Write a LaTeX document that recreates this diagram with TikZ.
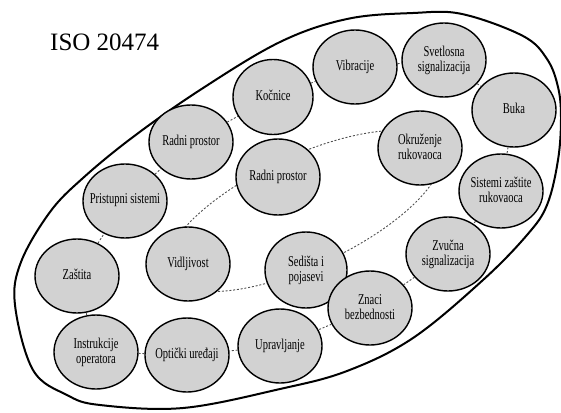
\documentclass[tikz,border=0pt]{standalone}
\usepackage{fontspec}
\setmainfont{Liberation Serif}
\newfontfamily\nodefont[FakeStretch=0.7]{Liberation Serif}
\usetikzlibrary{shapes.geometric}
\definecolor{nodegray}{RGB}{210,210,210}
\definecolor{linkgray}{RGB}{80,80,80}
\newcommand{\onel}[1]{\makebox[0pt]{\raisebox{4pt}{#1}}}
\newcommand{\twol}[2]{\makebox[0pt]{\begin{tabular}{@{}c@{}}#1\\[-3pt]#2\end{tabular}}}
\begin{document}
\begin{tikzpicture}[x=1pt,y=-1pt,
  item/.style={ellipse, draw=black, line width=1.4pt, fill=nodegray,
    minimum width=84pt, minimum height=74pt, inner sep=0pt,
    font=\nodefont\fontsize{15}{18}\selectfont},
  link/.style={draw=linkgray, line width=0.9pt, dash pattern=on 2pt off 1.8pt}]
\useasboundingbox (0,0) rectangle (561,412);
% outer boundary
\draw[line width=2pt] plot[smooth cycle, tension=0.6] coordinates {
  (15,305) (21,262) (50,212) (83,178) (133,137) (200,90) (280,42)
  (347,19) (413,13) (462,14) (523,36) (547,59) (558,87) (561,118)
  (558,160) (547,205) (527,235) (483,280) (413,338) (347,371)
  (280,389) (183,408) (100,405) (67,395) (33,370)};
% inner dashed ellipse
\coordinate (ic) at (304,211);
\draw[link, rotate around={25:(ic)}] (ic) ellipse [x radius=150pt, y radius=55pt];
% title
\node[anchor=base west, inner sep=0pt, font=\fontsize{25}{30}\selectfont] (title) at (50,50) {ISO 20474};
% nodes
\node[item, minimum width=80pt, minimum height=75pt] (kocnice) at (273,97) {\onel{Kočnice}};
\node[item] (vibracije) at (355,67) {\onel{Vibracije}};
\node[item] (svetlosna) at (444,60) {\twol{Svetlosna}{signalizacija}};
\node[item] (buka) at (514,110) {\onel{Buka}};
\node[item] (sistemi) at (501,191) {\twol{Sistemi zaštite}{rukovaoca}};
\node[item] (okruzenje) at (420,148) {\twol{Okruženje}{rukovaoca}};
\node[item] (radni1) at (191,142) {\onel{Radni prostor}};
\node[item, minimum height=76pt] (radni2) at (278,177) {\onel{Radni prostor}};
\node[item] (pristupni) at (125,201) {\onel{Pristupni sistemi}};
\node[item] (zastita) at (77,276) {\onel{Zaštita}};
\node[item] (vidljivost) at (188,264) {\onel{Vidljivost}};
\node[item, minimum width=82pt, minimum height=76pt] (sedista) at (306,270) {\twol{Sedišta i}{pojasevi}};
\node[item] (zvucna) at (448,254) {\twol{Zvučna}{signalizacija}};
\node[item] (znaci) at (370,308) {\twol{Znaci}{bezbednosti}};
\node[item] (upravljanje) at (280,346) {\onel{Upravljanje}};
\node[item] (opticki) at (187,355) {\onel{Optički uređaji}};
\node[item] (instrukcije) at (96,352) {\twol{Instrukcije}{operatora}};
% outer ring links
\draw[link] (zastita) -- (pristupni);
\draw[link] (pristupni) -- (radni1);
\draw[link] (radni1) -- (kocnice);
\draw[link] (kocnice) -- (vibracije);
\draw[link] (vibracije) -- (svetlosna);
\draw[link] (svetlosna) -- (buka);
\draw[link] (buka) -- (sistemi);
\draw[link] (sistemi) -- (zvucna);
\draw[link] (zvucna) -- (znaci);
\draw[link] (znaci) -- (upravljanje);
\draw[link] (upravljanje) -- (opticki);
\draw[link] (opticki) -- (instrukcije);
\draw[link] (instrukcije) -- (zastita);
\end{tikzpicture}
\end{document}
